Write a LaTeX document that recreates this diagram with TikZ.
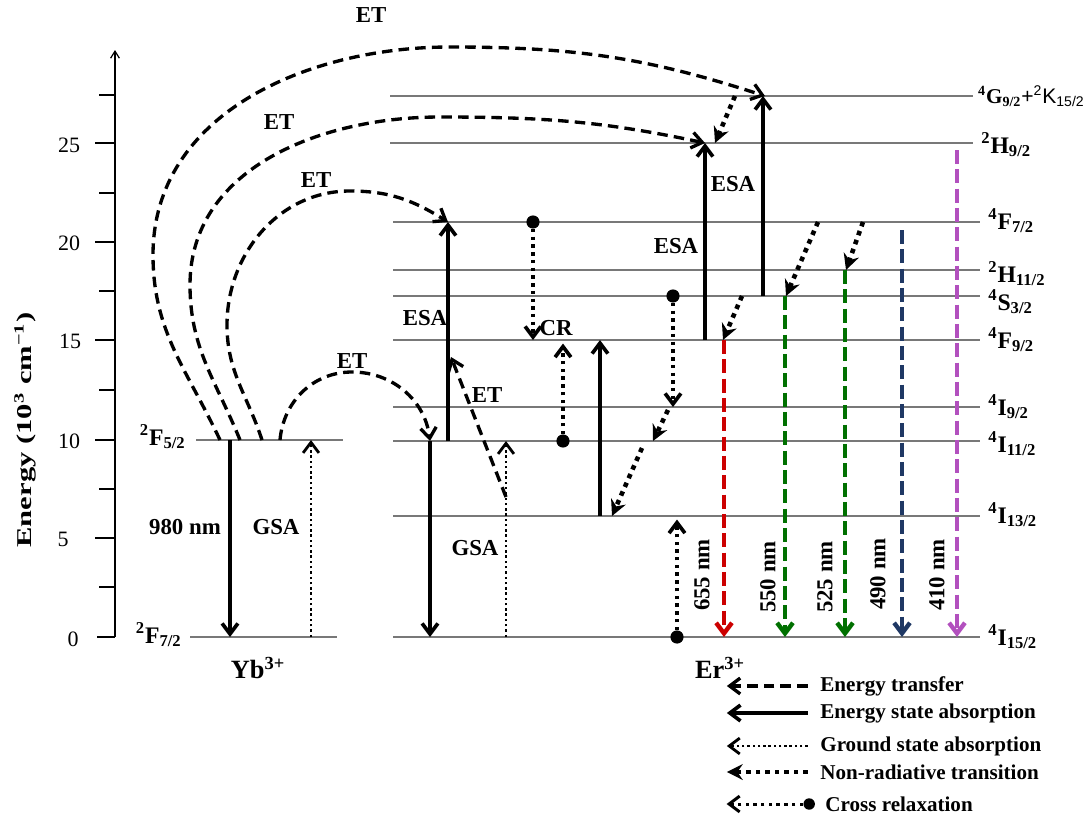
\documentclass[tikz,border=0pt]{standalone}
\usepackage{fontspec}
\setmainfont{Liberation Serif}
\setsansfont{Liberation Sans}
\usepackage{graphicx}
\usetikzlibrary{arrows.meta}
\definecolor{redem}{RGB}{204,0,0}
\definecolor{greenem}{RGB}{0,112,0}
\definecolor{navyem}{RGB}{31,56,100}
\definecolor{pinkem}{RGB}{178,80,190}
\definecolor{lvlgray}{RGB}{120,120,120}

\tikzset{
  level/.style={lvlgray, line width=0.85pt},
  lvllab/.style={anchor=base west, inner sep=0pt, font=\bfseries\fontsize{13.5}{16}\selectfont},
  yblab/.style={anchor=base east, inner sep=0pt, font=\bfseries\fontsize{13.5}{16}\selectfont},
  lab/.style={inner sep=0pt, font=\bfseries\fontsize{13}{15}\selectfont},
  wave/.style={inner sep=0pt, rotate=90, font=\bfseries\fontsize{13}{15}\selectfont},
  ticklab/.style={inner sep=0pt, font=\fontsize{12.5}{15}\selectfont},
  leg/.style={anchor=west, inner sep=0pt, font=\bfseries\fontsize{12}{14}\selectfont},
  barb/.style={-{Straight Barb[length=6pt,width=9pt]}},
  esa/.style={barb, line width=2.1pt},
  gsa/.style={barb, line width=1.6pt, dash pattern=on 1.4pt off 1.6pt},
  nrt/.style={-{Stealth[length=9pt,width=9pt,inset=3pt]}, line width=2.6pt, dash pattern=on 2.6pt off 2.8pt},
  crx/.style={barb, line width=2.1pt, dash pattern=on 2pt off 2.4pt},
  etr/.style={barb, line width=1.9pt, dash pattern=on 6pt off 3.5pt},
  emis/.style={-{Straight Barb[length=6pt,width=9pt]}, line width=2.5pt, dash pattern=on 8pt off 3pt},
  dot/.style={circle, fill, inner sep=0pt, minimum size=7.5pt},
}

\begin{document}
\begin{tikzpicture}[x=0.02cm, y=-0.02cm]
\useasboundingbox (0,0) rectangle (1089,819);

% energy axis
\coordinate (ax0) at (115,637);
\coordinate (axtop) at (115,50);
\draw[line width=0.7pt, -{Straight Barb[length=4pt,width=5pt]}] (ax0) -- (axtop);
\draw[line width=0.7pt] (97,637) -- (115,637);
\draw[line width=0.7pt] (99,587) -- (115,587);
\draw[line width=0.7pt] (95,538) -- (115,538);
\draw[line width=0.7pt] (99,489) -- (115,489);
\draw[line width=0.7pt] (95,440) -- (115,440);
\draw[line width=0.7pt] (99,390) -- (115,390);
\draw[line width=0.7pt] (95,340) -- (115,340);
\draw[line width=0.7pt] (99,291) -- (115,291);
\draw[line width=0.7pt] (95,242) -- (115,242);
\draw[line width=0.7pt] (99,193) -- (115,193);
\draw[line width=0.7pt] (95,143) -- (115,143);
\draw[line width=0.7pt] (99,95) -- (115,95);
\node[ticklab] (t0) at (73,639) {0};
\node[ticklab] (t5) at (63,539) {5};
\node[ticklab] (t10) at (69,441) {10};
\node[ticklab] (t15) at (70,341) {15};
\node[ticklab] (t20) at (69,243) {20};
\node[ticklab] (t25) at (69,145) {25};
\node[rotate=90, inner sep=0pt, font=\bfseries\fontsize{12}{14}\selectfont] (ylab) at (25,430)
  {\scalebox{1.45}[1]{Energy (10\textsuperscript{3} cm\textsuperscript{−1})}};

% Yb levels
\coordinate (Yex) at (0,440);
\coordinate (Ygr) at (0,637);
\draw[level] (196,0 |- Yex) -- (343,0 |- Yex);
\draw[level] (190,0 |- Ygr) -- (337,0 |- Ygr);
\node[yblab] (lYex) at (186,445) {\textsuperscript{2}F\textsubscript{5/2}};
\node[yblab] (lYgr) at (182,643) {\textsuperscript{2}F\textsubscript{7/2}};
\node[inner sep=0pt, font=\bfseries\fontsize{15}{17}\selectfont] (yb) at (258,668) {Yb\textsuperscript{3+}};

% Er levels
\coordinate (G92) at (0,96);
\coordinate (H92) at (0,143);
\coordinate (F72) at (0,222);
\coordinate (H112) at (0,270);
\coordinate (S32) at (0,296);
\coordinate (F92) at (0,340);
\coordinate (I92) at (0,407);
\coordinate (I112) at (0,441);
\coordinate (I132) at (0,516);
\coordinate (I152) at (0,637);
\draw[level] (390,0 |- G92) -- (973,0 |- G92);
\draw[level] (390,0 |- H92) -- (973,0 |- H92);
\draw[level] (393,0 |- F72) -- (980,0 |- F72);
\draw[level] (393,0 |- H112) -- (980,0 |- H112);
\draw[level] (393,0 |- S32) -- (980,0 |- S32);
\draw[level] (393,0 |- F92) -- (980,0 |- F92);
\draw[level] (393,0 |- I92) -- (980,0 |- I92);
\draw[level] (393,0 |- I112) -- (980,0 |- I112);
\draw[level] (393,0 |- I132) -- (980,0 |- I132);
\draw[level] (393,0 |- I152) -- (980,0 |- I152);
\node[lvllab, anchor=base east, font=\bfseries\fontsize{12}{14}\selectfont] (lG92) at (1085,103)
  {\textsuperscript{4}G\textsubscript{9/2}{\sffamily\mdseries +\textsuperscript{2}K\textsubscript{15/2}}};
\node[lvllab] (lH92) at (981,153) {\textsuperscript{2}H\textsubscript{9/2}};
\node[lvllab] (lF72) at (988,229) {\textsuperscript{4}F\textsubscript{7/2}};
\node[lvllab] (lH112) at (988,282) {\textsuperscript{2}H\textsubscript{11/2}};
\node[lvllab] (lS32) at (988,310) {\textsuperscript{4}S\textsubscript{3/2}};
\node[lvllab] (lF92) at (988,348) {\textsuperscript{4}F\textsubscript{9/2}};
\node[lvllab] (lI92) at (988,415) {\textsuperscript{4}I\textsubscript{9/2}};
\node[lvllab] (lI112) at (988,452) {\textsuperscript{4}I\textsubscript{11/2}};
\node[lvllab] (lI132) at (988,523) {\textsuperscript{4}I\textsubscript{13/2}};
\node[lvllab] (lI152) at (988,645) {\textsuperscript{4}I\textsubscript{15/2}};
\node[inner sep=0pt, font=\bfseries\fontsize{15}{17}\selectfont] (er) at (720,668) {Er\textsuperscript{3+}};

% Yb pump and GSA
\draw[esa] (230,0 |- Yex) -- (230,0 |- Ygr);
\draw[gsa] (311,0 |- Ygr) -- (311,0 |- Yex);
\node[lab] (l980) at (185,527) {980 nm};
\node[lab] (lgsa1) at (276,527) {GSA};

% energy transfer Yb -> Er
\draw[etr] (220,0 |- Yex) to[out=115,in=-90] (153,255) to[out=90,in=180] (450,47) to[out=0,in=162] (765,0 |- G92);
\draw[etr] (240,0 |- Yex) to[out=112,in=-90] (190,285) to[out=90,in=180] (440,117) to[out=0,in=168] (705,0 |- H92);
\draw[etr] (262,0 |- Yex) to[out=108,in=-90] (227,325) to[out=90,in=180] (350,191) to[out=0,in=148] (448,0 |- F72);
\draw[etr] (280,0 |- Yex) to[out=85,in=180] (352,372) to[out=0,in=97] (430,0 |- I112);
\node[lab] (let1) at (371,15) {ET};
\node[lab] (let2) at (279,122) {ET};
\node[lab] (let3) at (316,180) {ET};
\node[lab] (let4) at (352,361) {ET};

% Er transitions
\draw[esa] (430,0 |- I112) -- (430,0 |- I152);
\draw[esa] (448,0 |- I112) -- (448,0 |- F72);
\node[lab] (lesa1) at (425,318) {ESA};
\draw[gsa] (506,0 |- I152) -- (506,0 |- I112);
\node[lab] (lgsa2) at (475,548) {GSA};
\coordinate (etm) at (506,497);
\coordinate (etmEnd) at (451,357);
\draw[etr] (etm) -- (etmEnd);
\node[lab] (let5) at (487,395) {ET};
\node[dot] (cr1) at (533,0 |- F72) {};
\draw[crx] (cr1) -- (533,0 |- F92);
\node[lab] (lcr) at (556,328) {CR};
\node[dot] (cr2) at (563,0 |- I112) {};
\draw[crx, shorten >=2pt] (cr2) -- (563,0 |- F92);
\draw[esa] (600,0 |- I132) -- (600,0 |- F92);
\node[dot] (cr3) at (673,0 |- S32) {};
\draw[crx] (cr3) -- (673,0 |- I92);
\coordinate (nr1) at (668,410);
\coordinate (nr2) at (642,448);
\draw[nrt] (nr1) -- (653,0 |- I112);
\draw[nrt] (nr2) -- (612,0 |- I132);
\node[dot] (cr4) at (677,0 |- I152) {};
\draw[crx, shorten >=2pt] (cr4) -- (677,0 |- I132);
\draw[esa] (705,0 |- F92) -- (705,0 |- H92);
\node[lab] (lesa2) at (676,246) {ESA};
\draw[esa] (763,0 |- S32) -- (763,0 |- G92);
\node[lab] (lesa3) at (733,184) {ESA};
\draw[nrt] (735,0 |- G92) -- (715,0 |- H92);
\draw[nrt] (742,0 |- S32) -- (723,0 |- F92);
\draw[nrt] (818,0 |- F72) -- (786,0 |- S32);
\draw[nrt] (863,0 |- F72) -- (846,0 |- H112);

% emissions
\coordinate (em490) at (902,230);
\coordinate (em410) at (957,150);
\draw[emis, redem] (724,0 |- F92) -- (724,0 |- I152);
\draw[emis, greenem] (785,0 |- S32) -- (785,0 |- I152);
\draw[emis, greenem] (845,0 |- H112) -- (845,0 |- I152);
\draw[emis, navyem] (em490) -- (902,0 |- I152);
\draw[emis, pinkem] (em410) -- (957,0 |- I152);
\node[wave] (w655) at (702,575) {655 nm};
\node[wave] (w550) at (768,577) {550 nm};
\node[wave] (w525) at (825,577) {525 nm};
\node[wave] (w490) at (878,574) {490 nm};
\node[wave] (w410) at (937,575) {410 nm};

% legend
\node[leg] (lg1) at (820,686) {Energy transfer};
\node[leg] (lg2) at (820,713) {Energy state absorption};
\node[leg] (lg3) at (820,746) {Ground state absorption};
\node[leg] (lg4) at (820,772) {Non-radiative transition};
\node[leg] (lg5) at (825,804) {Cross relaxation};
\draw[etr] ([xshift=-7pt]lg1.west) -- ([xshift=-53pt]lg1.west);
\draw[esa] ([xshift=-7pt]lg2.west) -- ([xshift=-53pt]lg2.west);
\draw[gsa] ([xshift=-7pt]lg3.west) -- ([xshift=-53pt]lg3.west);
\draw[nrt] ([xshift=-7pt]lg4.west) -- ([xshift=-53pt]lg4.west);
\node[dot, minimum size=6.5pt] (lgdot) at ([xshift=-9pt]lg5.west) {};
\draw[crx, line width=1.7pt] (lgdot) -- ([xshift=-56pt]lg5.west);
\end{tikzpicture}
\end{document}
